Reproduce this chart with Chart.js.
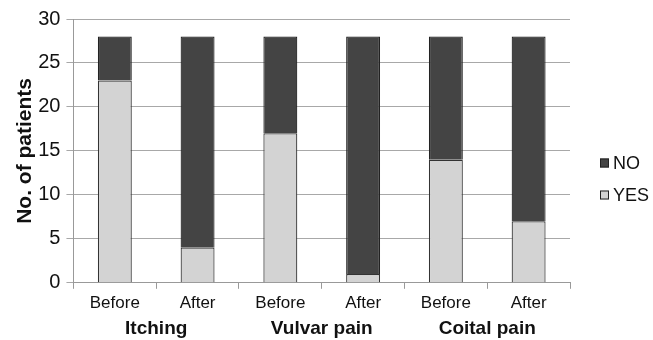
<!DOCTYPE html>
<html lang="en">
<head>
  <meta charset="UTF-8">
  <title>No. of patients</title>
  <style>
    body {
      margin: 0;
      padding: 0;
      background: #fff;
    }
    #wrap {
      width: 653px;
      height: 340px;
    }
  </style>
</head>
<body>
  <div id="wrap"><canvas id="chart"></canvas></div>

  <script src="https://cdn.jsdelivr.net/npm/chart.js"></script>
  <script>
    // bar labels and symptom groups
    const bars = ['Before', 'After', 'Before', 'After', 'Before', 'After'];
    const groups = ['Itching', 'Vulvar pain', 'Coital pain'];

    // patients answering yes / no
    const yesValues = [23, 4, 17, 1, 14, 7];
    const noValues = [5, 24, 11, 27, 14, 21];

    const yTicks = [0, 5, 10, 15, 20, 25, 30];

    const font = 'Liberation Sans, Arial, sans-serif';

    // legend on the right, NO above YES, small boxes
    const sideLegend = {
      id: 'sideLegend',
      afterDraw(chart) {
        const ctx = chart.ctx;
        const items = chart.data.datasets.slice().reverse();
        const x = chart.chartArea.right + 30;
        const y0 = 163;
        ctx.save();
        ctx.font = '18px ' + font;
        ctx.textBaseline = 'middle';
        items.forEach((ds, i) => {
          const y = y0 + i * 32;
          ctx.fillStyle = ds.backgroundColor;
          ctx.fillRect(x, y - 4.5, 9, 9);
          ctx.strokeStyle = '#222';
          ctx.lineWidth = 1;
          ctx.strokeRect(x + 0.5, y - 4, 8, 8);
          ctx.fillStyle = '#111';
          ctx.fillText(ds.label, x + 13, y + 1);
        });
        ctx.restore();
      }
    };

    new Chart(document.getElementById('chart'), {
      type: 'bar',
      data: {
        labels: bars,
        datasets: [
          {
            label: 'YES',
            data: yesValues,
            backgroundColor: '#d3d3d3',
            borderColor: '#333',
            borderWidth: 1.2,
            xAxisID: 'x'
          },
          {
            label: 'NO',
            data: noValues,
            backgroundColor: '#444444',
            borderColor: '#222',
            borderWidth: 1.2,
            xAxisID: 'x'
          }
        ]
      },
      options: {
        responsive: true,
        maintainAspectRatio: false,
        animation: false,
        layout: { padding: { top: 19, right: 83, left: 4, bottom: 0 } },
        datasets: {
          bar: { categoryPercentage: 1, barPercentage: 0.41 }
        },
        plugins: {
          tooltip: { enabled: false },
          legend: { display: false }
        },
        scales: {
          x: {
            stacked: true,
            offset: true,
            grid: {
              offset: true,
              drawOnChartArea: false,
              drawTicks: true,
              tickLength: 6,
              color: '#999'
            },
            border: { color: '#999' },
            ticks: {
              color: '#111',
              font: { family: font, size: 17 },
              padding: 4
            }
          },
          x2: {
            type: 'category',
            labels: groups,
            position: 'bottom',
            offset: true,
            grid: { display: false, drawTicks: false },
            border: { display: false },
            ticks: {
              color: '#111',
              font: { family: font, size: 19, weight: 'bold' },
              padding: 0
            }
          },
          y: {
            stacked: true,
            min: 0,
            max: 30,
            afterBuildTicks: axis => {
              axis.ticks = yTicks.map(v => ({ value: v }));
            },
            // tick padding is counted on both sides of the labels; drop one
            afterFit: axis => {
              axis.width -= 6;
            },
            grid: {
              color: '#a8a8a8',
              tickLength: 7
            },
            border: { color: '#999' },
            ticks: {
              color: '#111',
              font: { family: font, size: 20 },
              padding: 6
            },
            title: {
              display: true,
              text: 'No. of patients',
              color: '#111',
              font: { family: font, size: 21, weight: 'bold' },
              padding: { top: 9, bottom: 0 }
            }
          }
        }
      },
      plugins: [sideLegend]
    });
  </script>
</body>
</html>
